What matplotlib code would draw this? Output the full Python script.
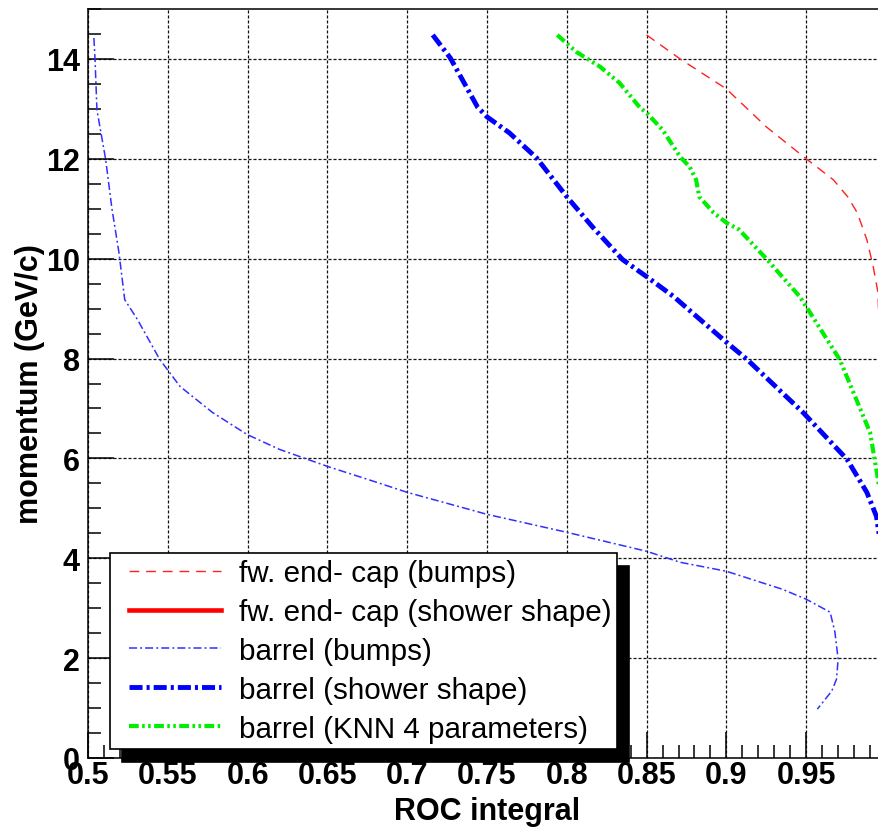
import numpy as np
import matplotlib
matplotlib.use("Agg")
import matplotlib.pyplot as plt
from matplotlib.ticker import MultipleLocator, FuncFormatter
from matplotlib.legend_handler import HandlerLine2D

plt.rcParams['font.family'] = ['Liberation Sans', 'DejaVu Sans']
plt.rcParams['lines.scale_dashes'] = False

# ROC integral vs momentum
endcap_bumps_roc = [0.850, 0.871, 0.900, 0.925, 0.950, 0.967, 0.976, 0.982,
                    0.988, 0.992, 0.995, 0.996, 0.998, 0.999, 0.999]
endcap_bumps_p = [14.48, 14.0, 13.4, 12.64, 12.0, 11.58, 11.24, 10.92,
                  10.38, 9.84, 9.32, 8.1, 6.0, 4.0, 1.0]

endcap_shower_roc = [0.9993, 0.9995, 0.9996, 0.9997, 0.9997]
endcap_shower_p = [14.5, 12.0, 9.0, 6.0, 1.0]

barrel_bumps_roc = [0.5037, 0.5044, 0.5056, 0.511, 0.515, 0.5194, 0.523,
                    0.531, 0.545, 0.5577, 0.578, 0.5996, 0.620, 0.650,
                    0.681, 0.700, 0.750, 0.800, 0.850, 0.871, 0.900, 0.935,
                    0.950, 0.965, 0.968, 0.970, 0.969, 0.966, 0.957]
barrel_bumps_p = [14.42, 14.0, 12.98, 12.0, 11.0, 10.12, 9.18,
                  8.78, 7.98, 7.44, 6.92, 6.48, 6.18, 5.84,
                  5.52, 5.32, 4.88, 4.52, 4.14, 3.92, 3.74, 3.38,
                  3.18, 2.92, 2.52, 1.98, 1.58, 1.34, 0.98]

barrel_shower_roc = [0.716, 0.727, 0.744, 0.750, 0.764, 0.781, 0.800, 0.816,
                     0.835, 0.850, 0.867, 0.898, 0.913, 0.948, 0.9756, 0.988,
                     0.994, 0.9965, 0.999]
barrel_shower_p = [14.48, 14.02, 13.04, 12.84, 12.52, 12.02, 11.24, 10.64,
                   9.98, 9.64, 9.24, 8.38, 7.98, 6.92, 5.98, 5.32,
                   4.84, 4.3, 1.0]

barrel_knn_roc = [0.794, 0.806, 0.821, 0.833, 0.846, 0.850, 0.860, 0.871,
                  0.877, 0.881, 0.883, 0.892, 0.900, 0.908, 0.925, 0.946,
                  0.950, 0.971, 0.990, 0.995, 0.9975, 0.999]
barrel_knn_p = [14.48, 14.14, 13.84, 13.52, 13.02, 12.92, 12.58, 12.04,
                11.84, 11.58, 11.24, 10.92, 10.72, 10.58, 10.0, 9.24,
                9.04, 7.98, 6.52, 5.58, 5.0, 1.0]

labels = ["fw. end- cap (bumps)", "fw. end- cap (shower shape)",
          "barrel (bumps)", "barrel (shower shape)",
          "barrel (KNN 4 parameters)"]

fig = plt.figure(figsize=(8.79, 8.28), dpi=100)
ax = fig.add_axes([88 / 879, 69 / 828, 798 / 879, 749 / 828])

ax.plot(endcap_bumps_roc, endcap_bumps_p, color='#ff2020', lw=1.0,
        dashes=(7, 5), label=labels[0])
ax.plot(endcap_shower_roc, endcap_shower_p, color='#ff0000', lw=3.3,
        label=labels[1])
ax.plot(barrel_bumps_roc, barrel_bumps_p, color='#3030ff', lw=1.1,
        dashes=(5.8, 2.2, 1.4, 2.2), label=labels[2])
ax.plot(barrel_shower_roc, barrel_shower_p, color='#0000ff', lw=3.5,
        dashes=(9.4, 2.9, 2.2, 2.9), label=labels[3])
ax.plot(barrel_knn_roc, barrel_knn_p, color='#00ee00', lw=3.0,
        dashes=(7, 2.5, 1.8, 2.5, 1.8, 2.5), label=labels[4])

ax.set_xlim(0.5, 1.0)
ax.set_ylim(0, 15)
ax.xaxis.set_major_locator(MultipleLocator(0.05))
ax.xaxis.set_minor_locator(MultipleLocator(0.01))
ax.yaxis.set_major_locator(MultipleLocator(2))
ax.yaxis.set_minor_locator(MultipleLocator(0.5))
ax.xaxis.set_major_formatter(FuncFormatter(lambda v, p: f"{v:g}"))
ax.yaxis.set_major_formatter(FuncFormatter(lambda v, p: f"{v:g}"))

ax.tick_params(which='both', direction='in', top=False, right=False,
               width=1.1, labelsize=22)
ax.tick_params(which='major', length=18.7)
ax.tick_params(which='minor', length=9.4)
ax.tick_params(axis='x', pad=1.5)
ax.tick_params(axis='y', pad=5.8)
for lab in ax.get_xticklabels() + ax.get_yticklabels():
    lab.set_fontweight('bold')

for sp in ax.spines.values():
    sp.set_linewidth(1.1)

ax.grid(True, which='major', color='#111111', lw=0.9, dashes=(2.2, 1.4))

ax.set_xlabel("ROC integral", fontsize=22, fontweight='bold', labelpad=4)
ax.set_ylabel("momentum (GeV/c)", fontsize=22, fontweight='bold', labelpad=1)

hmap = {h: HandlerLine2D(xpad=0.45) for h in ax.get_lines()}
leg = ax.legend(loc='upper left', bbox_to_anchor=(110 / 879, 1 - 554 / 828),
                bbox_transform=fig.transFigure, borderaxespad=0,
                fontsize=21.3, handlelength=3.55, handletextpad=0.6,
                labelspacing=0.37, borderpad=0.2, fancybox=False,
                framealpha=1, edgecolor='black', handler_map=hmap,
                shadow={'ox': 8.6, 'oy': -9.4, 'facecolor': 'black',
                        'edgecolor': 'black', 'alpha': 1})
leg.get_frame().set_linewidth(1.2)

fig.savefig("out.png", dpi=100)
